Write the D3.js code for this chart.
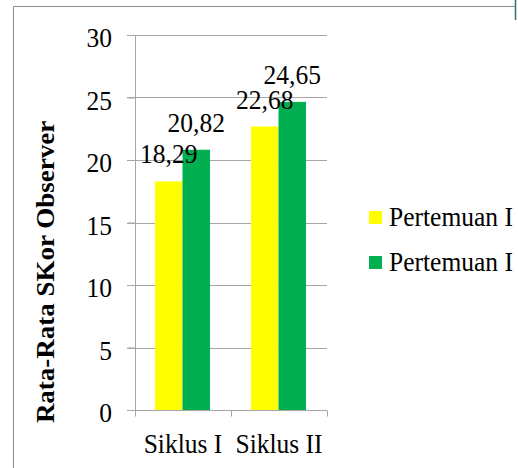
<!DOCTYPE html>
<html><head><meta charset="utf-8">
<script src="https://cdn.jsdelivr.net/npm/d3@7/dist/d3.min.js"></script>
<style>body{margin:0;background:#fff}svg{display:block}</style>
</head><body>
<script>
const categories = ["Siklus I", "Siklus II"];
const seriesNames = ["Pertemuan I", "Pertemuan I"];
const pertemuan1 = [18.29, 22.68];
const pertemuan2 = [20.82, 24.65];
const labels1 = ["18,29", "22,68"];
const labels2 = ["20,82", "24,65"];
const yTicks = [0, 5, 10, 15, 20, 25, 30];
const colors = ["#FFFF00", "#00B050"];

const W = 518, H = 468;
const svg = d3.select("body").append("svg").attr("width", W).attr("height", H);
const font = "'Liberation Serif', 'Times New Roman', serif";
const FS = 25.5, SY = 1.1;

function txt(parent, x, yy, s, anchor) {
  return parent.append("text").attr("transform", `translate(${x},${yy}) scale(1,${SY})`)
    .attr("text-anchor", anchor || "start").attr("font-family", font).attr("font-size", FS)
    .attr("fill", "#000").text(s);
}

// outer frame
svg.append("path").attr("d", "M13.5,468 V6.5 H515").attr("fill", "none").attr("stroke", "#8c8c8c").attr("stroke-width", 1);
svg.append("line").attr("x1", 515.5).attr("x2", 515.5).attr("y1", 0).attr("y2", 20).attr("stroke", "#2f6f6a").attr("stroke-width", 1.5);

const x0 = d3.scaleBand().domain(categories).range([135, 327]).padding(0);
const x1 = d3.scaleBand().domain([0, 1]).range([20, 75]).padding(0);
const y = d3.scaleLinear().domain([0, 30]).range([410, 35]);

// gridlines
svg.append("g").selectAll("line").data(yTicks.filter(d => d > 0)).join("line")
  .attr("x1", 127).attr("x2", 327).attr("y1", d => Math.round(y(d)) + 0.5).attr("y2", d => Math.round(y(d)) + 0.5)
  .attr("stroke", "#a6a6a6").attr("stroke-width", 1);

// bars
const data = categories.map((c, i) => ({c, vals: [pertemuan1[i], pertemuan2[i]], labs: [labels1[i], labels2[i]]}));
const g = svg.append("g");
data.forEach(d => {
  d.vals.forEach((v, j) => {
    g.append("rect").attr("x", x0(d.c) + x1(j)).attr("width", x1.bandwidth())
      .attr("y", y(v)).attr("height", y(0) - y(v)).attr("fill", colors[j]);
  });
});
// labels
data.forEach(d => {
  d.vals.forEach((v, j) => {
    txt(svg, x0(d.c) + x1(j) + x1.bandwidth() / 2, y(v) - 18, d.labs[j], "middle");
  });
});

// y axis
const yAxis = d3.axisLeft(y).tickValues(yTicks).tickSize(8).tickFormat("");
const ya = svg.append("g").attr("transform", "translate(135.5,0)").call(yAxis);
ya.select(".domain").attr("stroke", "#a6a6a6").attr("d", "M0,35V410");
ya.selectAll(".tick line").attr("stroke", "#a6a6a6");
yTicks.forEach(t => txt(svg, 112, y(t) + 12, d3.format("d")(t), "end"));

// x axis
const xa = svg.append("g").attr("transform", "translate(0,410.5)");
xa.append("line").attr("x1", 127).attr("x2", 327).attr("stroke", "#a6a6a6");
xa.selectAll(".tk").data([135, 231, 327]).join("line").attr("class", "tk")
  .attr("x1", d => d + 0.5).attr("x2", d => d + 0.5).attr("y1", 0).attr("y2", 6).attr("stroke", "#a6a6a6");
categories.forEach(c => txt(svg, x0(c) + x0.bandwidth() / 2, 453, c, "middle"));

// y title
svg.append("text").attr("transform", "translate(54,272) rotate(-90) scale(1.08,1)").attr("text-anchor", "middle")
  .attr("font-family", font).attr("font-size", 25).attr("font-weight", "bold").text("Rata-Rata SKor Observer");

// legend
seriesNames.forEach((n, i) => {
  const yy = 211 + i * 45;
  svg.append("rect").attr("x", 369).attr("y", yy).attr("width", 13).attr("height", 13).attr("fill", colors[i]);
  txt(svg, 389, yy + 15, n, "start");
});
</script>
</body></html>
